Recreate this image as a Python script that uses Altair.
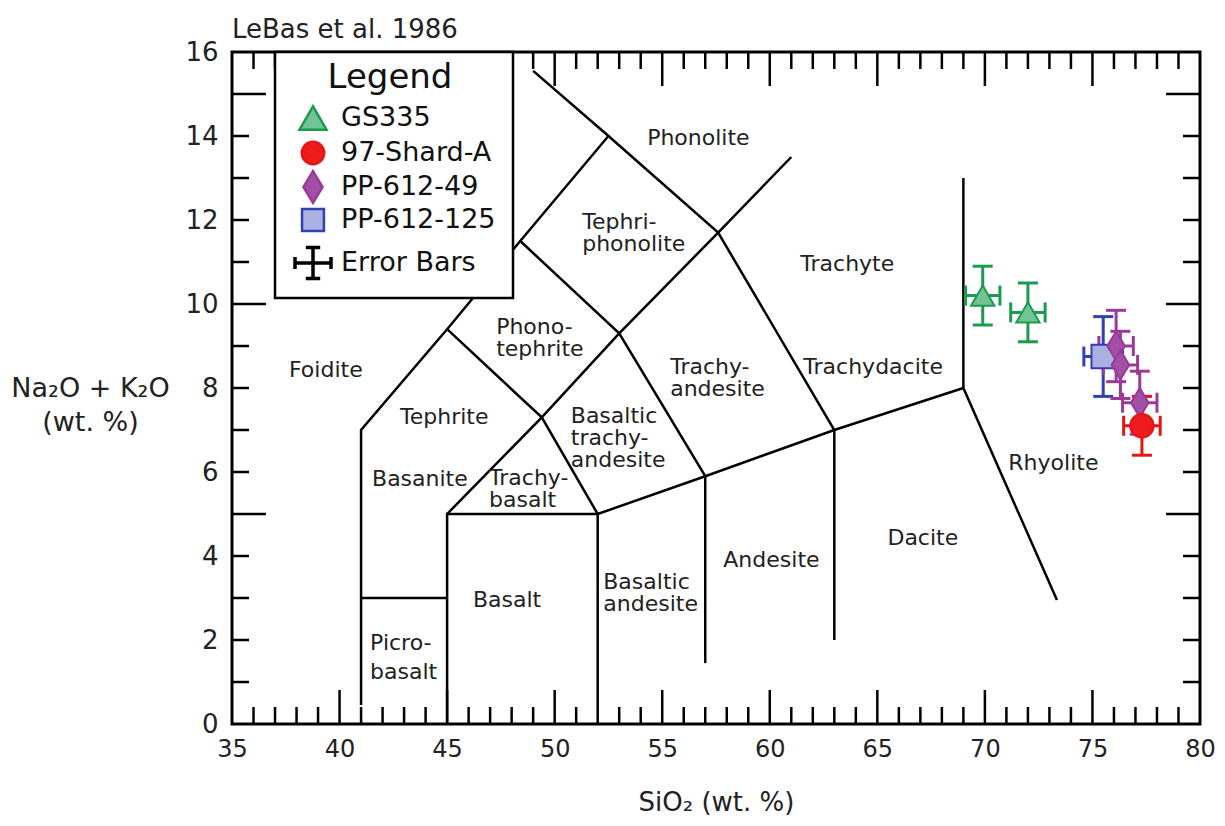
import altair as alt
import pandas as pd

FONT = "DejaVu Sans"

# ---------------- data ----------------
legend_series = ["GS335", "97-Shard-A", "PP-612-49", "PP-612-125", "Error Bars"]
fill_colors = ["#72c495", "#ee1c1c", "#a24fa8", "#a9b1e3", "#000000"]
stroke_colors = ["#1b9a50", "#e51515", "#9a3a98", "#3340b0", "#000000"]
legend_title = "Legend"

# sample analyses (drawing order)
pt_series = ["GS335", "GS335", "PP-612-125", "PP-612-49", "PP-612-49", "PP-612-49", "97-Shard-A"]
pt_sio2 = [69.9, 72.0, 75.5, 76.1, 76.3, 77.2, 77.3]
pt_alk = [10.2, 9.8, 8.75, 9.0, 8.55, 7.65, 7.1]
pt_sio2_err = [0.8, 0.8, 0.9, 0.8, 0.8, 0.8, 0.85]
pt_alk_err = [0.7, 0.7, 0.95, 0.85, 0.8, 0.75, 0.7]

# TAS field boundaries (LeBas et al. 1986)
bnd_id = [1, 1, 1, 1, 1, 1,
          2, 2,
          3, 3, 3, 3,
          4, 4, 4,
          5, 5, 5, 5, 5,
          6, 6, 6,
          7, 7, 7, 7,
          8, 8,
          9, 9, 9, 9,
          10, 10, 10]
bnd_sio2 = [41, 41, 45, 48.4, 52.5, 49.0,
            41, 45,
            45, 45, 52, 52,
            45, 49.4, 52,
            45, 49.4, 53, 57.6, 61,
            48.4, 53, 57,
            52, 57, 63, 69,
            57, 57,
            63, 63, 57.6, 52.5,
            69, 69, 73.35]
bnd_alk = [0.45, 7, 9.4, 11.5, 14, 15.55,
           3, 3,
           0, 5, 5, 0.4,
           9.4, 7.3, 5,
           5, 7.3, 9.3, 11.7, 13.5,
           11.5, 9.3, 5.9,
           5, 5.9, 7, 8,
           1.45, 5.9,
           2.0, 7, 11.7, 14,
           13, 8, 2.95]

# field names (position = first line)
fld_text = ["Foidite", "Phonolite", "Tephri-\nphonolite", "Trachyte",
            "Phono-\ntephrite", "Trachy-\nandesite", "Trachydacite",
            "Tephrite", "Basaltic\ntrachy-\nandesite", "Basanite",
            "Trachy-\nbasalt", "Basalt", "Basaltic\nandesite",
            "Picro-\nbasalt", "Rhyolite", "Dacite", "Andesite"]
fld_sio2 = [37.65, 54.3, 51.28, 61.42,
            47.28, 55.37, 61.56,
            42.81, 50.75, 41.51,
            46.95, 46.2, 52.26,
            41.42, 71.09, 65.47, 57.84]
fld_alk = [8.43, 13.95, 11.95, 10.95,
           9.45, 8.5, 8.5,
           7.31, 7.33, 5.83,
           5.85, 2.95, 3.38,
           1.93, 6.21, 4.43, 3.9]
fld_spacing = ["n", "n", "n", "n",
               "n", "n", "n",
               "n", "n", "n",
               "n", "n", "n",
               "w", "n", "n", "n"]

x_tick_labels = [35, 40, 45, 50, 55, 60, 65, 70, 75, 80]
y_tick_labels = [0, 2, 4, 6, 8, 10, 12, 14, 16]
x_major_ticks = [40, 45, 50, 55, 60, 65, 70, 75]
x_minor_ticks = [v for v in range(36, 80) if v % 5]
y_major_ticks = [5, 10, 15]
y_minor_ticks = [v for v in range(1, 16) if v % 5]

W, H = 968, 672
MINOR, MAJOR = 17, 34

# ---------------- encodings ----------------
xs = alt.Scale(domain=[35, 80], nice=False, zero=False)
ys = alt.Scale(domain=[0, 16], nice=False, zero=False)
x_axis = alt.Axis(values=x_tick_labels, ticks=False, tickSize=0, domain=False, grid=False,
                  labelFontSize=24, labelPadding=13, labelFlush=False, labelColor="#222222",
                  labelFont=FONT, titleFont=FONT,
                  titleFontSize=26, titleFontWeight="normal", titleColor="#222222",
                  titleX=W / 2, titleY=78, titleAlign="center", titleBaseline="middle")
y_axis = alt.Axis(values=y_tick_labels, ticks=False, tickSize=0, domain=False, grid=False,
                  labelFontSize=26, labelPadding=14, labelColor="#222222",
                  labelFont=FONT, titleFont=FONT,
                  titleAngle=0, titleX=-142, titleY=336, titleAlign="center",
                  titleBaseline="middle", titleFontSize=27, titleFontWeight="normal",
                  titleLineHeight=34, titleColor="#222222")
X_TITLE = "SiO₂ (wt. %)"
Y_TITLE = ["Na₂O + K₂O", "(wt. %)"]


def X(f):
    return alt.X(f, type="quantitative", scale=xs, axis=x_axis, title=X_TITLE)


def Y(f):
    return alt.Y(f, type="quantitative", scale=ys, axis=y_axis, title=Y_TITLE)


diamond_path = "M0,-1.25L0.75,0L0,1.25L-0.75,0Z"
errbar_path = "M-1.5,0H1.5M0,-1.3V1.3M-1.5,-0.5V0.5M1.5,-0.5V0.5M-0.6,-1.3H0.6M-0.6,1.3H0.6"
shape_range = ["triangle-up", "circle", diamond_path, "square", errbar_path]

fill_enc = alt.Fill("series:N", scale=alt.Scale(domain=legend_series, range=fill_colors), legend=None)
stroke_enc = alt.Stroke("series:N", scale=alt.Scale(domain=legend_series, range=stroke_colors), legend=None)
shape_enc = alt.Shape("series:N", scale=alt.Scale(domain=legend_series, range=shape_range), legend=None)
bar_color = alt.Color("series:N", scale=alt.Scale(domain=legend_series, range=stroke_colors), legend=None)

# ---------------- tables ----------------
pts = pd.DataFrame({"series": pt_series, "sio2": pt_sio2, "alk": pt_alk,
                    "sio2_err": pt_sio2_err, "alk_err": pt_alk_err})
bnd = pd.DataFrame({"id": bnd_id, "sio2": bnd_sio2, "alk": bnd_alk})
bnd["ord"] = range(len(bnd))
fld = pd.DataFrame({"text": fld_text, "sio2": fld_sio2, "alk": fld_alk, "sp": fld_spacing})

# ---------------- layers ----------------
lines = alt.Chart(bnd).mark_line(color="black", strokeWidth=2.5).encode(
    x=X("sio2"), y=Y("alk"), detail="id:N", order="ord:Q")

labels_n = alt.Chart(fld).transform_filter("datum.sp == 'n'").mark_text(
    align="left", baseline="middle", fontSize=22, font=FONT, color="#222222",
    lineBreak="\n", lineHeight=22).encode(x=X("sio2"), y=Y("alk"), text="text:N")
labels_w = alt.Chart(fld).transform_filter("datum.sp == 'w'").mark_text(
    align="left", baseline="middle", fontSize=22, font=FONT, color="#222222",
    lineBreak="\n", lineHeight=29).encode(x=X("sio2"), y=Y("alk"), text="text:N")


def xticks(vals, y0, y1):
    return alt.Chart(pd.DataFrame({"v": vals})).mark_rule(color="black", strokeWidth=2.5).encode(
        x=X("v"), y=alt.value(y0), y2=alt.value(y1))


def yticks(vals, x0, x1):
    return alt.Chart(pd.DataFrame({"v": vals})).mark_rule(color="black", strokeWidth=2.5).encode(
        y=Y("v"), x=alt.value(x0), x2=alt.value(x1))


ticks = [
    xticks(x_minor_ticks, H, H - MINOR), xticks(x_major_ticks, H, H - MAJOR),
    xticks(x_minor_ticks, 0, MINOR), xticks(x_major_ticks, 0, MAJOR),
    yticks(y_minor_ticks, 0, MINOR), yticks(y_major_ticks, 0, MAJOR),
    yticks(y_minor_ticks, W, W - MINOR), yticks(y_major_ticks, W, W - MAJOR),
]

# ---- legend box (drawn as marks, inside the plot frame) ----
LEG_X0, LEG_X1, LEG_Y0, LEG_Y1 = 43, 281, 0, 246
LEG_SYM_X, LEG_LAB_X = 81, 109
LEG_ROW_Y = [66, 101, 135, 168, 211]
LEG_SYM_SIZE = [730, 500, 650, 480, 576]

leg_df = pd.DataFrame({"title": [legend_title]})
legend_layers = [
    alt.Chart(leg_df).mark_rect(fill="white", stroke="black", strokeWidth=2.5).encode(
        x=alt.value(LEG_X0), x2=alt.value(LEG_X1), y=alt.value(LEG_Y0), y2=alt.value(LEG_Y1)),
    alt.Chart(leg_df).mark_text(align="center", baseline="middle", fontSize=34, font=FONT,
                                color="#111111").encode(
        x=alt.value(158), y=alt.value(26), text="title:N"),
]
for i, name in enumerate(legend_series):
    d = pd.DataFrame({"series": [name]})
    legend_layers.append(
        alt.Chart(d).mark_point(shape=shape_range[i], filled=True, size=LEG_SYM_SIZE[i],
                                fill=fill_colors[i], stroke=stroke_colors[i],
                                strokeWidth=2.5 if i < 4 else 3.5, opacity=1).encode(
            x=alt.value(LEG_SYM_X), y=alt.value(LEG_ROW_Y[i])))
    legend_layers.append(
        alt.Chart(d).mark_text(align="left", baseline="middle", fontSize=27, font=FONT,
                               color="#111111").encode(
            x=alt.value(LEG_LAB_X), y=alt.value(LEG_ROW_Y[i]), text="series:N"))

# ---- samples with error bars ----
eb = alt.Chart(pts).transform_calculate(
    y_lo="datum.alk - datum.alk_err", y_hi="datum.alk + datum.alk_err",
    x_lo="datum.sio2 - datum.sio2_err", x_hi="datum.sio2 + datum.sio2_err")

vbar = eb.mark_rule(strokeWidth=3).encode(x=X("sio2"), y=Y("y_lo"), y2="y_hi:Q", color=bar_color)
hbar = eb.mark_rule(strokeWidth=3).encode(y=Y("alk"), x=X("x_lo"), x2="x_hi:Q", color=bar_color)
vcap = eb.transform_fold(["y_lo", "y_hi"], as_=["end", "cy"]).mark_point(
    shape="M-1,0H1", size=400, filled=False, strokeWidth=3, opacity=1).encode(
    x=X("sio2"), y=Y("cy"), color=bar_color)
hcap = eb.transform_fold(["x_lo", "x_hi"], as_=["end", "cx"]).mark_point(
    shape="M0,-1V1", size=400, filled=False, strokeWidth=3, opacity=1).encode(
    x=X("cx"), y=Y("alk"), color=bar_color)

points = alt.Chart(pts).mark_point(filled=True, size=550, strokeWidth=2, opacity=1).encode(
    x=X("sio2"), y=Y("alk"), fill=fill_enc, stroke=stroke_enc, shape=shape_enc)

chart = alt.layer(lines, labels_n, labels_w, *ticks, *legend_layers,
                  vbar, hbar, vcap, hcap, points).properties(
    width=W, height=H,
    autosize=alt.AutoSizeParams(type="none"),
    padding={"left": 224, "top": 44, "right": 16, "bottom": 92},
    title=alt.TitleParams("LeBas et al. 1986", anchor="start", frame="group", fontSize=26,
                          fontWeight="normal", font=FONT, color="#222222", offset=-4),
).configure(font=FONT).configure_view(stroke="black", strokeWidth=3)

chart.save("out.html", embed_options={"renderer": "svg", "actions": False})
